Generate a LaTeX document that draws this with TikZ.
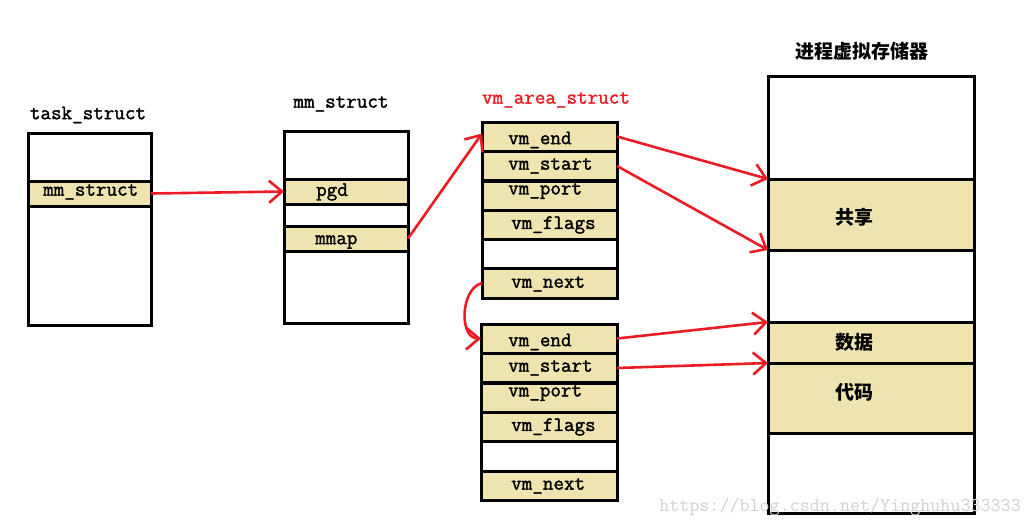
\documentclass[tikz,border=0pt]{standalone}
\usepackage{fontspec}
\newfontfamily\monof{Latin Modern Mono}[BoldFont={Latin Modern Mono},BoldFeatures={FakeBold=1.6}]
\newfontfamily\cjk{Noto Sans CJK SC}
\usetikzlibrary{arrows.meta}
\definecolor{tan}{RGB}{239,228,176}
\definecolor{pred}{RGB}{237,28,36}
\tikzset{
  x=1pt,y=-1pt,
  box/.style={draw=black,line width=3pt,fill=white,rectangle,inner sep=0pt,outer sep=0pt},
  rowbox/.style={draw=black,line width=3pt,fill=tan,rectangle,inner sep=0pt,outer sep=0pt},
  lbl/.style={anchor=west,inner sep=0pt,font=\monof\bfseries\fontsize{20.5}{20.5}\selectfont},
  ttl/.style={inner sep=0pt,font=\monof\bfseries\fontsize{20.5}{20.5}\selectfont},
  clbl/.style={anchor=west,inner sep=0pt,font=\cjk\bfseries\fontsize{19}{19}\selectfont},
  link/.style={draw=pred,line width=2.6pt,-{Straight Barb[length=13pt,width=22pt,line width=2.6pt]}},
}
\begin{document}
\begin{tikzpicture}
\useasboundingbox (0,0) rectangle (1031,528);
% task_struct
\node[ttl] (tt) at (88,115) {task\_struct};
\node[box,minimum width=123pt,minimum height=192pt] (task) at (89.5,229) {};
\node[rowbox,minimum width=123pt,minimum height=25pt] (tm) at (89.5,193.5) {};
\node[lbl] (tml) at (43,192) {mm\_struct};
% mm_struct
\node[ttl] (mt) at (341,104) {mm\_struct};
\node[box,minimum width=124pt,minimum height=192pt] (mm) at (346,227) {};
\node[rowbox,minimum width=124pt,minimum height=25pt] (pgd) at (346,191.5) {};
\node[rowbox,minimum width=124pt,minimum height=25pt] (mmap) at (346,238.5) {};
\node[lbl] (pgdl) at (316,192) {pgd};
\node[lbl] (mmapl) at (315,242) {mmap};
% vm_area_struct 1
\node[ttl,text=pred] (vt) at (556,100) {vm\_area\_struct};
\node[box,minimum width=135pt,minimum height=176pt] (va1) at (549.5,210) {};
\node[rowbox,minimum width=135pt,minimum height=29pt] (ve1) at (549.5,136.5) {};
\node[rowbox,minimum width=135pt,minimum height=29pt] (vs1) at (549.5,166) {};
\node[rowbox,minimum width=135pt,minimum height=29pt] (vp1) at (549.5,195.5) {};
\node[rowbox,minimum width=135pt,minimum height=29pt] (vf1) at (549.5,225) {};
\node[rowbox,minimum width=135pt,minimum height=30pt] (vn1) at (549.5,283) {};
\node[lbl] at (508,140) {vm\_end};
\node[lbl] at (508,166) {vm\_start};
\node[lbl] at (508,191) {vm\_port};
\node[lbl] at (511,225) {vm\_flags};
\node[lbl] at (511,284) {vm\_next};
% vm_area_struct 2
\node[box,minimum width=136pt,minimum height=176pt] (va2) at (549,412) {};
\node[rowbox,minimum width=136pt,minimum height=29pt] (ve2) at (549,338.5) {};
\node[rowbox,minimum width=136pt,minimum height=29pt] (vs2) at (549,368) {};
\node[rowbox,minimum width=136pt,minimum height=29pt] (vp2) at (549,397.5) {};
\node[rowbox,minimum width=136pt,minimum height=29pt] (vf2) at (549,427) {};
\node[rowbox,minimum width=136pt,minimum height=29pt] (vn2) at (549,485.5) {};
\node[lbl] at (508,342) {vm\_end};
\node[lbl] at (508,368) {vm\_start};
\node[lbl] at (508,393) {vm\_port};
\node[lbl] at (511,427) {vm\_flags};
\node[lbl] at (511,486) {vm\_next};
% process virtual memory
\node[inner sep=0pt,font=\cjk\bfseries\fontsize{19}{19}\selectfont] (pt) at (862,51) {进程虚拟存储器};
\node[box,minimum width=206pt,minimum height=437pt] (pm) at (871,294.5) {};
\node[rowbox,minimum width=206pt,minimum height=71pt] (sh) at (871,214.5) {};
\node[rowbox,minimum width=206pt,minimum height=41pt] (da) at (871,342.5) {};
\node[rowbox,minimum width=206pt,minimum height=70pt] (co) at (871,398) {};
\node[clbl] at (835,217) {共享};
\node[clbl] at (835,342) {数据};
\node[clbl] at (835,392) {代码};
% watermark
\node[inner sep=0pt,anchor=east,text=black!18,font=\monof\fontsize{19.5}{19.5}\selectfont] (wm) at (1021,507) {https://blog.csdn.net/Yinghuhu333333};
% connectors
\draw[link] (tm.east) -- (pgd.west);
\draw[link] (mmap.east) -- ([yshift=3pt]ve1.west);
\draw[link] (ve1.east) -- (sh.north west);
\draw[link] (vs1.east) -- (sh.south west);
\draw[link] (ve2.east) -- (da.north west);
\draw[link] (vs2.east) -- (co.north west);
\draw[link] (vn1.west) .. controls +(-22,6) and +(-22,0) .. (ve2.west);
\end{tikzpicture}
\end{document}
